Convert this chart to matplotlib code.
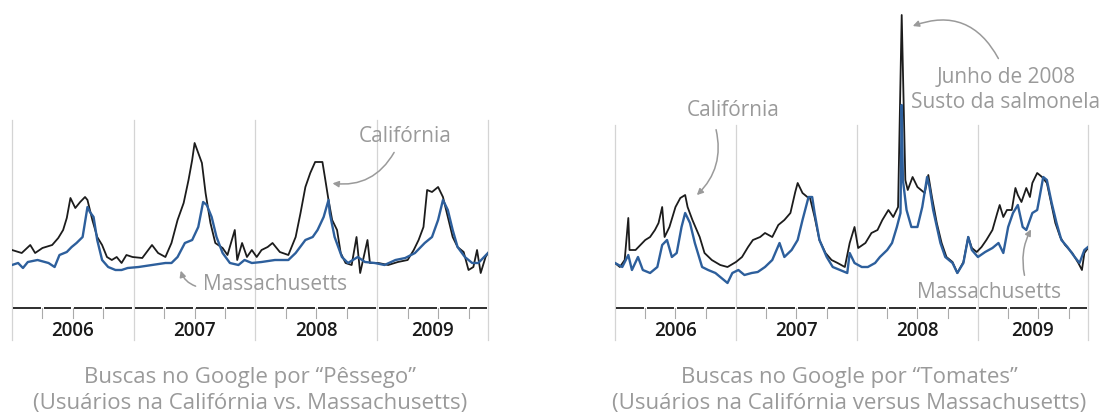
import matplotlib
matplotlib.use("Agg")
import matplotlib.pyplot as plt
import numpy as np

plt.rcParams['font.family'] = ['Open Sans', 'DejaVu Sans']

# ---- dados: buscas por "Pêssego" (indice relativo) ----
pes_ca_x = [2006.00, 2006.08, 2006.15, 2006.19, 2006.25, 2006.33, 2006.38, 2006.42, 2006.45, 2006.48,
            2006.52, 2006.56, 2006.60, 2006.62, 2006.66, 2006.70, 2006.74, 2006.78, 2006.82, 2006.86,
            2006.90, 2006.94, 2006.99, 2007.07, 2007.15, 2007.20, 2007.26, 2007.31, 2007.36, 2007.41,
            2007.45, 2007.48, 2007.50, 2007.53, 2007.56, 2007.59, 2007.63, 2007.67, 2007.73, 2007.77,
            2007.83, 2007.85, 2007.89, 2007.93, 2007.97, 2008.01, 2008.05, 2008.10, 2008.14, 2008.20,
            2008.27, 2008.33, 2008.37, 2008.41, 2008.45, 2008.49, 2008.55, 2008.57, 2008.60, 2008.63,
            2008.67, 2008.70, 2008.74, 2008.79, 2008.83, 2008.86, 2008.92, 2008.94, 2009.01, 2009.09,
            2009.17, 2009.25, 2009.30, 2009.34, 2009.38, 2009.41, 2009.45, 2009.50, 2009.54, 2009.58,
            2009.62, 2009.66, 2009.71, 2009.75, 2009.79, 2009.82, 2009.85, 2009.89, 2009.91]
pes_ca_y = [60, 57, 65, 57, 62, 65, 72, 80, 92, 112,
            102, 108, 113, 110, 90, 73, 65, 53, 50, 53,
            47, 55, 53, 52, 65, 57, 53, 67, 90, 107,
            130, 150, 167, 157, 147, 117, 87, 67, 62, 55,
            80, 50, 67, 53, 60, 53, 60, 63, 67, 58,
            55, 73, 97, 123, 137, 148, 148, 133, 110, 90,
            80, 57, 47, 45, 73, 37, 70, 47, 47, 45,
            48, 50, 60, 70, 83, 120, 118, 123, 113, 93,
            73, 63, 58, 40, 43, 60, 37, 53, 57]

pes_ma_x = [2006.00, 2006.05, 2006.09, 2006.13, 2006.21, 2006.30, 2006.35, 2006.39, 2006.45, 2006.49,
            2006.53, 2006.58, 2006.62, 2006.64, 2006.67, 2006.70, 2006.74, 2006.79, 2006.85, 2006.90,
            2006.95, 2007.04, 2007.15, 2007.26, 2007.31, 2007.36, 2007.42, 2007.48, 2007.53, 2007.57,
            2007.60, 2007.64, 2007.68, 2007.73, 2007.79, 2007.86, 2007.91, 2007.97, 2008.05, 2008.16,
            2008.27, 2008.33, 2008.41, 2008.47, 2008.51, 2008.56, 2008.60, 2008.61, 2008.65, 2008.71,
            2008.76, 2008.84, 2008.90, 2008.98, 2009.06, 2009.15, 2009.23, 2009.31, 2009.39, 2009.45,
            2009.50, 2009.54, 2009.58, 2009.62, 2009.66, 2009.72, 2009.78, 2009.83, 2009.87, 2009.91]
pes_ma_y = [45, 47, 42, 48, 50, 47, 43, 55, 58, 63,
            67, 73, 103, 98, 93, 70, 50, 43, 40, 40,
            42, 43, 45, 47, 47, 53, 67, 70, 83, 108,
            105, 93, 73, 57, 47, 45, 50, 47, 48, 50,
            50, 57, 70, 73, 80, 93, 110, 97, 73, 53,
            47, 53, 48, 47, 45, 50, 52, 57, 67, 73,
            90, 110, 100, 80, 63, 53, 47, 47, 52, 57]

# ---- dados: buscas por "Tomates" ----
tom_ca_x = [2006.00, 2006.04, 2006.08, 2006.11, 2006.12, 2006.17, 2006.21, 2006.25, 2006.29, 2006.33,
            2006.36, 2006.39, 2006.41, 2006.45, 2006.50, 2006.54, 2006.58, 2006.60, 2006.64, 2006.70,
            2006.74, 2006.80, 2006.87, 2006.93, 2007.00, 2007.05, 2007.10, 2007.14, 2007.20, 2007.24,
            2007.30, 2007.35, 2007.40, 2007.45, 2007.49, 2007.51, 2007.55, 2007.59, 2007.61, 2007.65,
            2007.69, 2007.74, 2007.79, 2007.84, 2007.90, 2007.94, 2007.98, 2008.01, 2008.07, 2008.12,
            2008.17, 2008.21, 2008.26, 2008.30, 2008.34, 2008.37, 2008.40, 2008.42, 2008.46, 2008.50,
            2008.56, 2008.59, 2008.62, 2008.66, 2008.70, 2008.74, 2008.79, 2008.83, 2008.88, 2008.92,
            2008.95, 2008.99, 2009.03, 2009.07, 2009.12, 2009.16, 2009.18, 2009.21, 2009.24, 2009.28,
            2009.31, 2009.33, 2009.36, 2009.40, 2009.43, 2009.45, 2009.49, 2009.53, 2009.57, 2009.60,
            2009.64, 2009.68, 2009.72, 2009.78, 2009.83, 2009.86, 2009.88, 2009.91]
tom_ca_y = [47, 43, 50, 92, 60, 60, 65, 70, 73, 80,
            87, 103, 73, 83, 103, 112, 115, 103, 90, 73,
            57, 50, 45, 43, 48, 53, 63, 70, 73, 77,
            73, 85, 90, 97, 118, 127, 117, 113, 113, 93,
            70, 57, 50, 47, 43, 67, 83, 62, 67, 77,
            80, 90, 100, 93, 103, 295, 130, 120, 133, 123,
            117, 135, 113, 87, 67, 53, 48, 37, 48, 73,
            62, 58, 63, 70, 80, 97, 105, 93, 100, 100,
            122, 115, 108, 122, 113, 127, 137, 133, 127, 110,
            87, 73, 65, 57, 47, 40, 57, 62]

tom_ma_x = [2006.00, 2006.06, 2006.11, 2006.14, 2006.19, 2006.23, 2006.29, 2006.35, 2006.39, 2006.43,
            2006.47, 2006.51, 2006.55, 2006.58, 2006.62, 2006.66, 2006.72, 2006.77, 2006.83, 2006.88,
            2006.93, 2006.97, 2007.02, 2007.07, 2007.13, 2007.18, 2007.24, 2007.30, 2007.36, 2007.40,
            2007.46, 2007.51, 2007.55, 2007.60, 2007.63, 2007.65, 2007.69, 2007.75, 2007.80, 2007.86,
            2007.92, 2007.94, 2007.98, 2008.04, 2008.09, 2008.15, 2008.19, 2008.25, 2008.29, 2008.33,
            2008.36, 2008.37, 2008.38, 2008.41, 2008.45, 2008.50, 2008.54, 2008.58, 2008.60, 2008.63,
            2008.69, 2008.73, 2008.79, 2008.83, 2008.88, 2008.92, 2008.95, 2009.00, 2009.06, 2009.12,
            2009.17, 2009.21, 2009.25, 2009.29, 2009.33, 2009.37, 2009.40, 2009.45, 2009.49, 2009.51,
            2009.54, 2009.57, 2009.61, 2009.65, 2009.69, 2009.74, 2009.80, 2009.84, 2009.88, 2009.91]
tom_ma_y = [47, 43, 55, 40, 53, 40, 37, 43, 65, 70,
            53, 57, 83, 97, 87, 67, 43, 40, 37, 32,
            27, 37, 40, 35, 37, 38, 43, 50, 67, 53,
            60, 70, 90, 113, 113, 97, 70, 53, 43, 40,
            37, 57, 47, 43, 43, 47, 53, 60, 67, 83,
            97, 205, 130, 100, 83, 83, 103, 133, 123, 100,
            67, 53, 47, 37, 47, 73, 60, 53, 58, 62,
            67, 57, 83, 97, 105, 83, 80, 97, 100, 113,
            133, 130, 107, 87, 70, 63, 53, 47, 60, 63]

anos = [2006, 2007, 2008, 2009]
fim = 2009.91

preto = '#1c1c1c'
azul = '#2d5f9c'
cinza = '#9a9a9a'
grade = '#d4d4d4'

fig = plt.figure(figsize=(11.06, 4.16), dpi=100)
W, H = 1106.0, 416.0


def painel(x0, x1, topo):
    ax = fig.add_axes([x0 / W, 71 / H, (x1 - x0) / W, 345 / H])
    ax.set_xlim(2006.0, fim)
    ax.set_ylim(-35, 310)
    ax.axis('off')
    # linhas verticais dos anos
    for a in anos + [fim]:
        ax.plot([a, a], [-30, topo], color=grade, lw=0.9, clip_on=False, zorder=1)
    # linha base em segmentos trimestrais
    trims = np.arange(2006.0, fim, 0.25)
    for q in trims:
        ax.plot([q + 0.012, min(q + 0.25, fim) - 0.012], [2, 2], color=preto, lw=1.3,
                solid_capstyle='butt', zorder=2)
        if q % 1 != 0:
            ax.plot([q, q], [2, -8], color='#aaaaaa', lw=0.8, zorder=2)
    for a in anos:
        meio = (a + min(a + 1, fim)) / 2
        ax.text(meio, -21, str(a), ha='center', va='center', fontsize=13.5, color='#1a1a1a',
                weight='semibold')
    return ax


# painel esquerdo: pessego
ax1 = painel(12, 488, 190)
ax1.plot(pes_ca_x, pes_ca_y, color=preto, lw=1.3, zorder=3)
ax1.plot(pes_ma_x, pes_ma_y, color=azul, lw=1.7, zorder=4)
ax1.text(2009.23, 173, 'Califórnia', ha='center', va='center', fontsize=15, color=cinza)
ax1.annotate('', xy=(2008.61, 127), xytext=(2009.15, 160),
             arrowprops=dict(arrowstyle='-|>', color=cinza, lw=1.1, mutation_scale=9,
                             connectionstyle='arc3,rad=-0.35'))
ax1.text(2008.16, 25, 'Massachusetts', ha='center', va='center', fontsize=15, color=cinza)
ax1.annotate('', xy=(2007.38, 42), xytext=(2007.53, 23),
             arrowprops=dict(arrowstyle='-|>', color=cinza, lw=1.1, mutation_scale=9,
                             connectionstyle='arc3,rad=-0.3'))

# painel direito: tomates
ax2 = painel(615, 1088, 185)
ax2.plot(tom_ca_x, tom_ca_y, color=preto, lw=1.3, zorder=3)
ax2.plot(tom_ma_x, tom_ma_y, color=azul, lw=1.7, zorder=4)
ax2.text(2006.98, 200, 'Califórnia', ha='center', va='center', fontsize=15, color=cinza)
ax2.annotate('', xy=(2006.66, 113), xytext=(2006.83, 183),
             arrowprops=dict(arrowstyle='-|>', color=cinza, lw=1.1, mutation_scale=9,
                             connectionstyle='arc3,rad=-0.3'))
ax2.text(2009.23, 220, 'Junho de 2008\nSusto da salmonela', ha='center', va='center',
         fontsize=15, color=cinza, linespacing=1.3)
ax2.annotate('', xy=(2008.44, 283), xytext=(2009.18, 249),
             arrowprops=dict(arrowstyle='-|>', color=cinza, lw=1.1, mutation_scale=9,
                             connectionstyle='arc3,rad=0.45'))
ax2.text(2009.09, 18, 'Massachusetts', ha='center', va='center', fontsize=15, color=cinza)
ax2.annotate('', xy=(2009.45, 83), xytext=(2009.39, 32),
             arrowprops=dict(arrowstyle='-|>', color=cinza, lw=1.1, mutation_scale=9,
                             connectionstyle='arc3,rad=-0.2'))

# legendas de baixo
fig.text(250 / W, 1 - 378 / H, 'Buscas no Google por “Pêssego”', ha='center', va='center',
         fontsize=16, color=cinza)
fig.text(250 / W, 1 - 403 / H, '(Usuários na Califórnia vs. Massachusetts)', ha='center',
         va='center', fontsize=16, color=cinza)
fig.text(849 / W, 1 - 378 / H, 'Buscas no Google por “Tomates”', ha='center', va='center',
         fontsize=16, color=cinza)
fig.text(849 / W, 1 - 403 / H, '(Usuários na Califórnia versus Massachusetts)', ha='center',
         va='center', fontsize=16, color=cinza)

fig.savefig('out.png', dpi=100)
